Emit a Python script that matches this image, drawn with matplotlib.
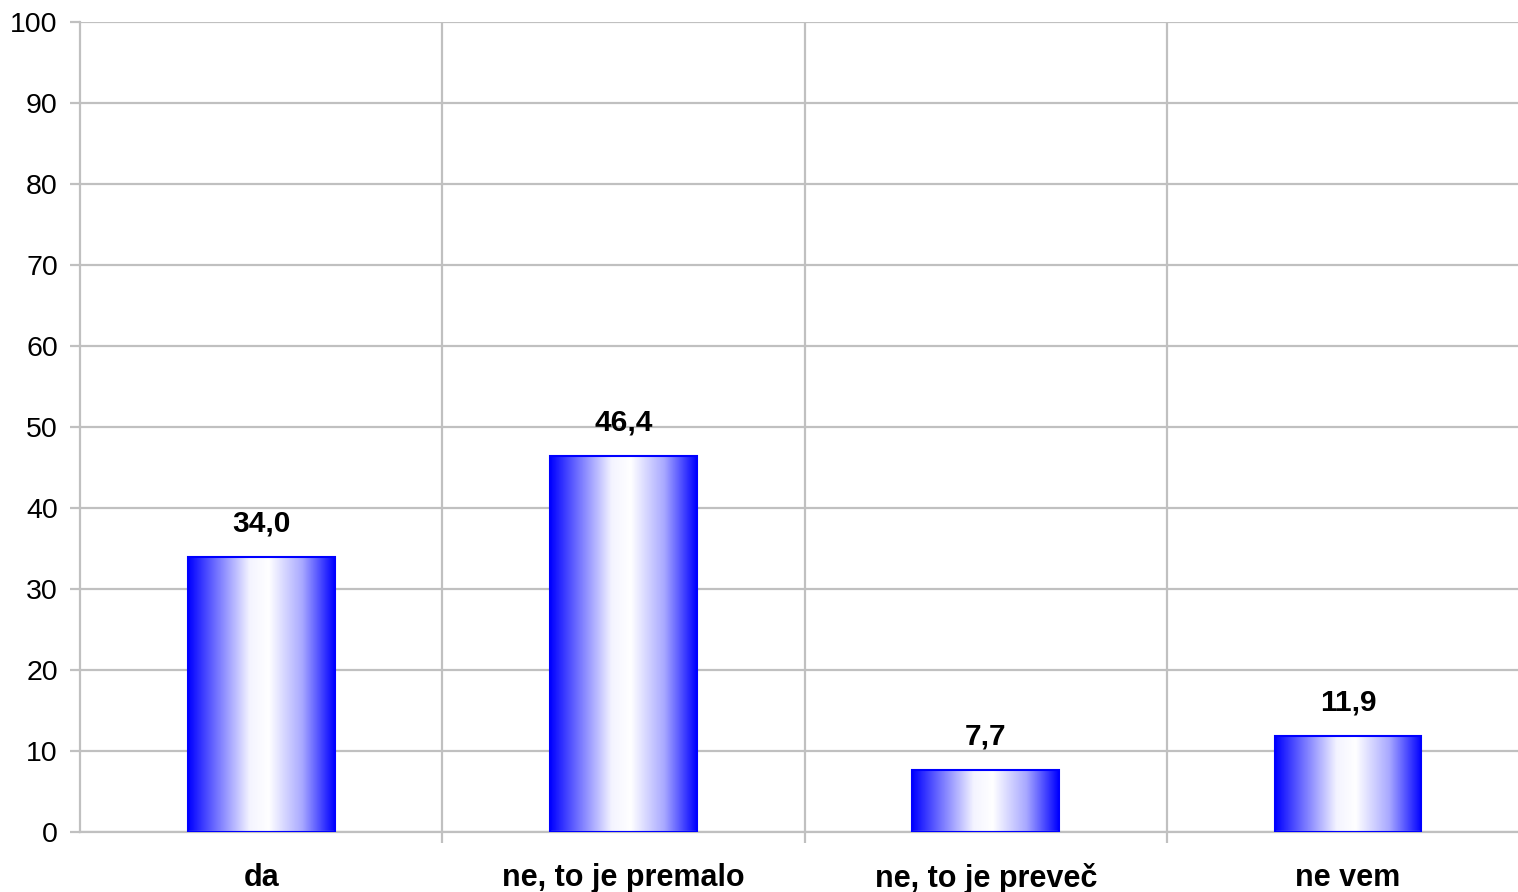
import numpy as np
import matplotlib.pyplot as plt
from matplotlib.colors import LinearSegmentedColormap
from matplotlib.ticker import FixedLocator

plt.rcParams['font.family'] = ['Liberation Sans', 'DejaVu Sans']

categories = ['da', 'ne, to je premalo', 'ne, to je preveč', 'ne vem']
values = [34.0, 46.4, 7.7, 11.9]
value_labels = ['34,0', '46,4', '7,7', '11,9']
yticks = list(range(0, 101, 10))

W, H = 1518, 892
fig = plt.figure(figsize=(W / 100, H / 100), dpi=100)
ax = fig.add_axes([80 / W, 1 - 832 / H, (1518 - 80) / W, (832 - 22) / H])

grid_c = '#c0c0c0'
bar_w = 0.405

# blue -> white -> blue, horizontal
cmap = LinearSegmentedColormap.from_list(
    'cyl', [(0.0, '#0000ff'), (0.18, '#6a6aff'), (0.42, '#f4f4ff'),
            (0.55, '#ffffff'), (0.78, '#a8a8ff'), (1.0, '#0000ff')])
grad = np.linspace(0, 1, 256).reshape(1, -1)

xmax = (1518 - 80) / 362.3 - 0.5

bars = ax.bar(range(len(values)), values, width=bar_w, color='none',
              edgecolor='#0000ff', linewidth=1.5, zorder=3)
for b, lab in zip(bars, value_labels):
    x0, w, h = b.get_x(), b.get_width(), b.get_height()
    im = ax.imshow(grad, cmap=cmap, aspect='auto', extent=(x0, x0 + w, 0, h),
                   zorder=2, interpolation='bilinear')
    im.set_clip_path(b)
    ax.text(x0 + w / 2, h + 2.4, lab, ha='center', va='bottom',
            fontsize=21.5, fontweight='bold')

ax.set_xlim(-0.5, xmax)
ax.set_ylim(0, 100)

ax.set_yticks(yticks)
ax.set_yticklabels([str(t) for t in yticks], fontsize=20.5)
ax.yaxis.grid(True, color=grid_c, linewidth=1.6, zorder=0)
ax.tick_params(axis='y', length=7, width=1.6, color=grid_c, pad=9)

ax.set_xticks(range(len(categories)))
ax.set_xticklabels(categories, fontsize=22, fontweight='bold')
ax.tick_params(axis='x', which='major', length=0, pad=22)
ax.xaxis.set_minor_locator(FixedLocator([0.5, 1.5, 2.5]))
ax.tick_params(axis='x', which='minor', length=8, width=1.6, color=grid_c)
ax.xaxis.grid(True, which='minor', color=grid_c, linewidth=1.6, zorder=0)
ax.set_axisbelow(True)

for s in ['top', 'right']:
    ax.spines[s].set_visible(False)
for s in ['left', 'bottom']:
    ax.spines[s].set_color(grid_c)
    ax.spines[s].set_linewidth(1.6)

fig.savefig('out.png', dpi=100)
